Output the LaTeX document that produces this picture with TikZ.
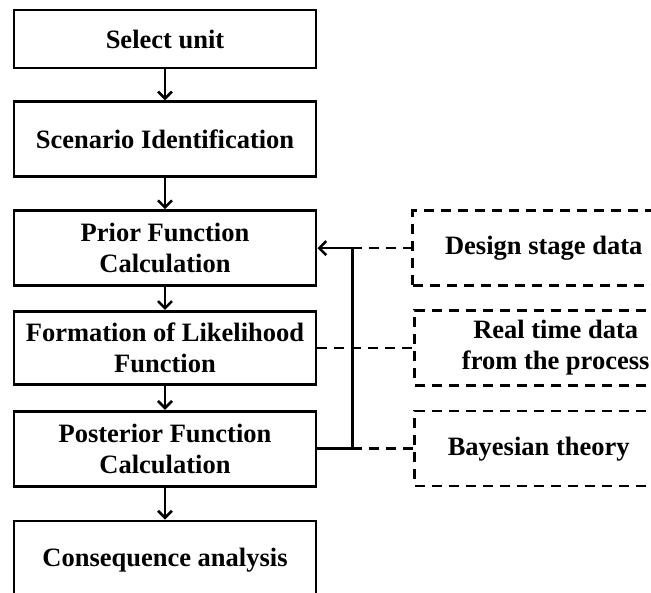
\documentclass[tikz,border=0pt]{standalone}
\usepackage{fontspec}
\setmainfont{Liberation Serif}
\usepackage{tikz}
\usetikzlibrary{arrows.meta,positioning}
\tikzstyle{block} = [rectangle,draw,line width=2.8pt,minimum width=302pt,
  text centered,align=center,inner sep=2pt,
  font=\bfseries\fontsize{26.5}{31}\selectfont]
\tikzstyle{source} = [rectangle,draw,line width=2.6pt,dash pattern=on 10pt off 7pt,
  minimum height=75pt,align=center,inner sep=2pt,
  font=\bfseries\fontsize{26.5}{31}\selectfont]
\tikzstyle{flowarrow} = [line width=2.6pt,-{Straight Barb[length=7pt,width=14pt,line width=2.6pt]}]
\tikzstyle{datalink} = [line width=2.6pt,dash pattern=on 10pt off 7pt]

\begin{document}
\begin{tikzpicture}[x=1pt,y=-1pt]
\useasboundingbox (0,0) rectangle (651,593);
\clip (0,0) rectangle (651,593);

% main flow
\node [block,minimum height=58pt] (unit) at (165,39) {Select unit};
\node [block,minimum height=75pt,below=31pt of unit] (scenario) {Scenario Identification};
\node [block,minimum height=75pt,below=31pt of scenario] (prior) {Prior Function\\Calculation};
\node [block,minimum height=73pt,below=23pt of prior] (likelihood) {Formation of Likelihood\\Function};
\node [block,minimum height=75pt,below=24pt of likelihood] (posterior) {Posterior Function\\Calculation};
\node [block,minimum height=78pt,below=32pt of posterior] (consequence) {Consequence analysis};

% data sources (cut off at the right border)
\node [source,minimum width=262pt,right=94pt of prior] (design) {Design stage data};
\node [source,minimum width=282pt,right=96pt of likelihood] (realtime) {Real time data\\from the process};
\node [source,minimum width=248pt,right=96pt of posterior] (bayes) {Bayesian theory};

\draw [flowarrow] (unit) -- (scenario);
\draw [flowarrow] (scenario) -- (prior);
\draw [flowarrow] (prior) -- (likelihood);
\draw [flowarrow] (likelihood) -- (posterior);
\draw [flowarrow] (posterior) -- (consequence);

% feedback loop
\draw [line width=2.6pt] (posterior.east) -- ++(35,0) coordinate (low);
\coordinate (high) at (low |- prior.east);
\draw [flowarrow] (low) -- (high) -- (prior.east);

\draw [datalink] (high) -- (high -| design.west);
\draw [datalink] (likelihood.east) -- (likelihood.east -| realtime.west);
\draw [datalink] (low) -- (low -| bayes.west);
\end{tikzpicture}
\end{document}
